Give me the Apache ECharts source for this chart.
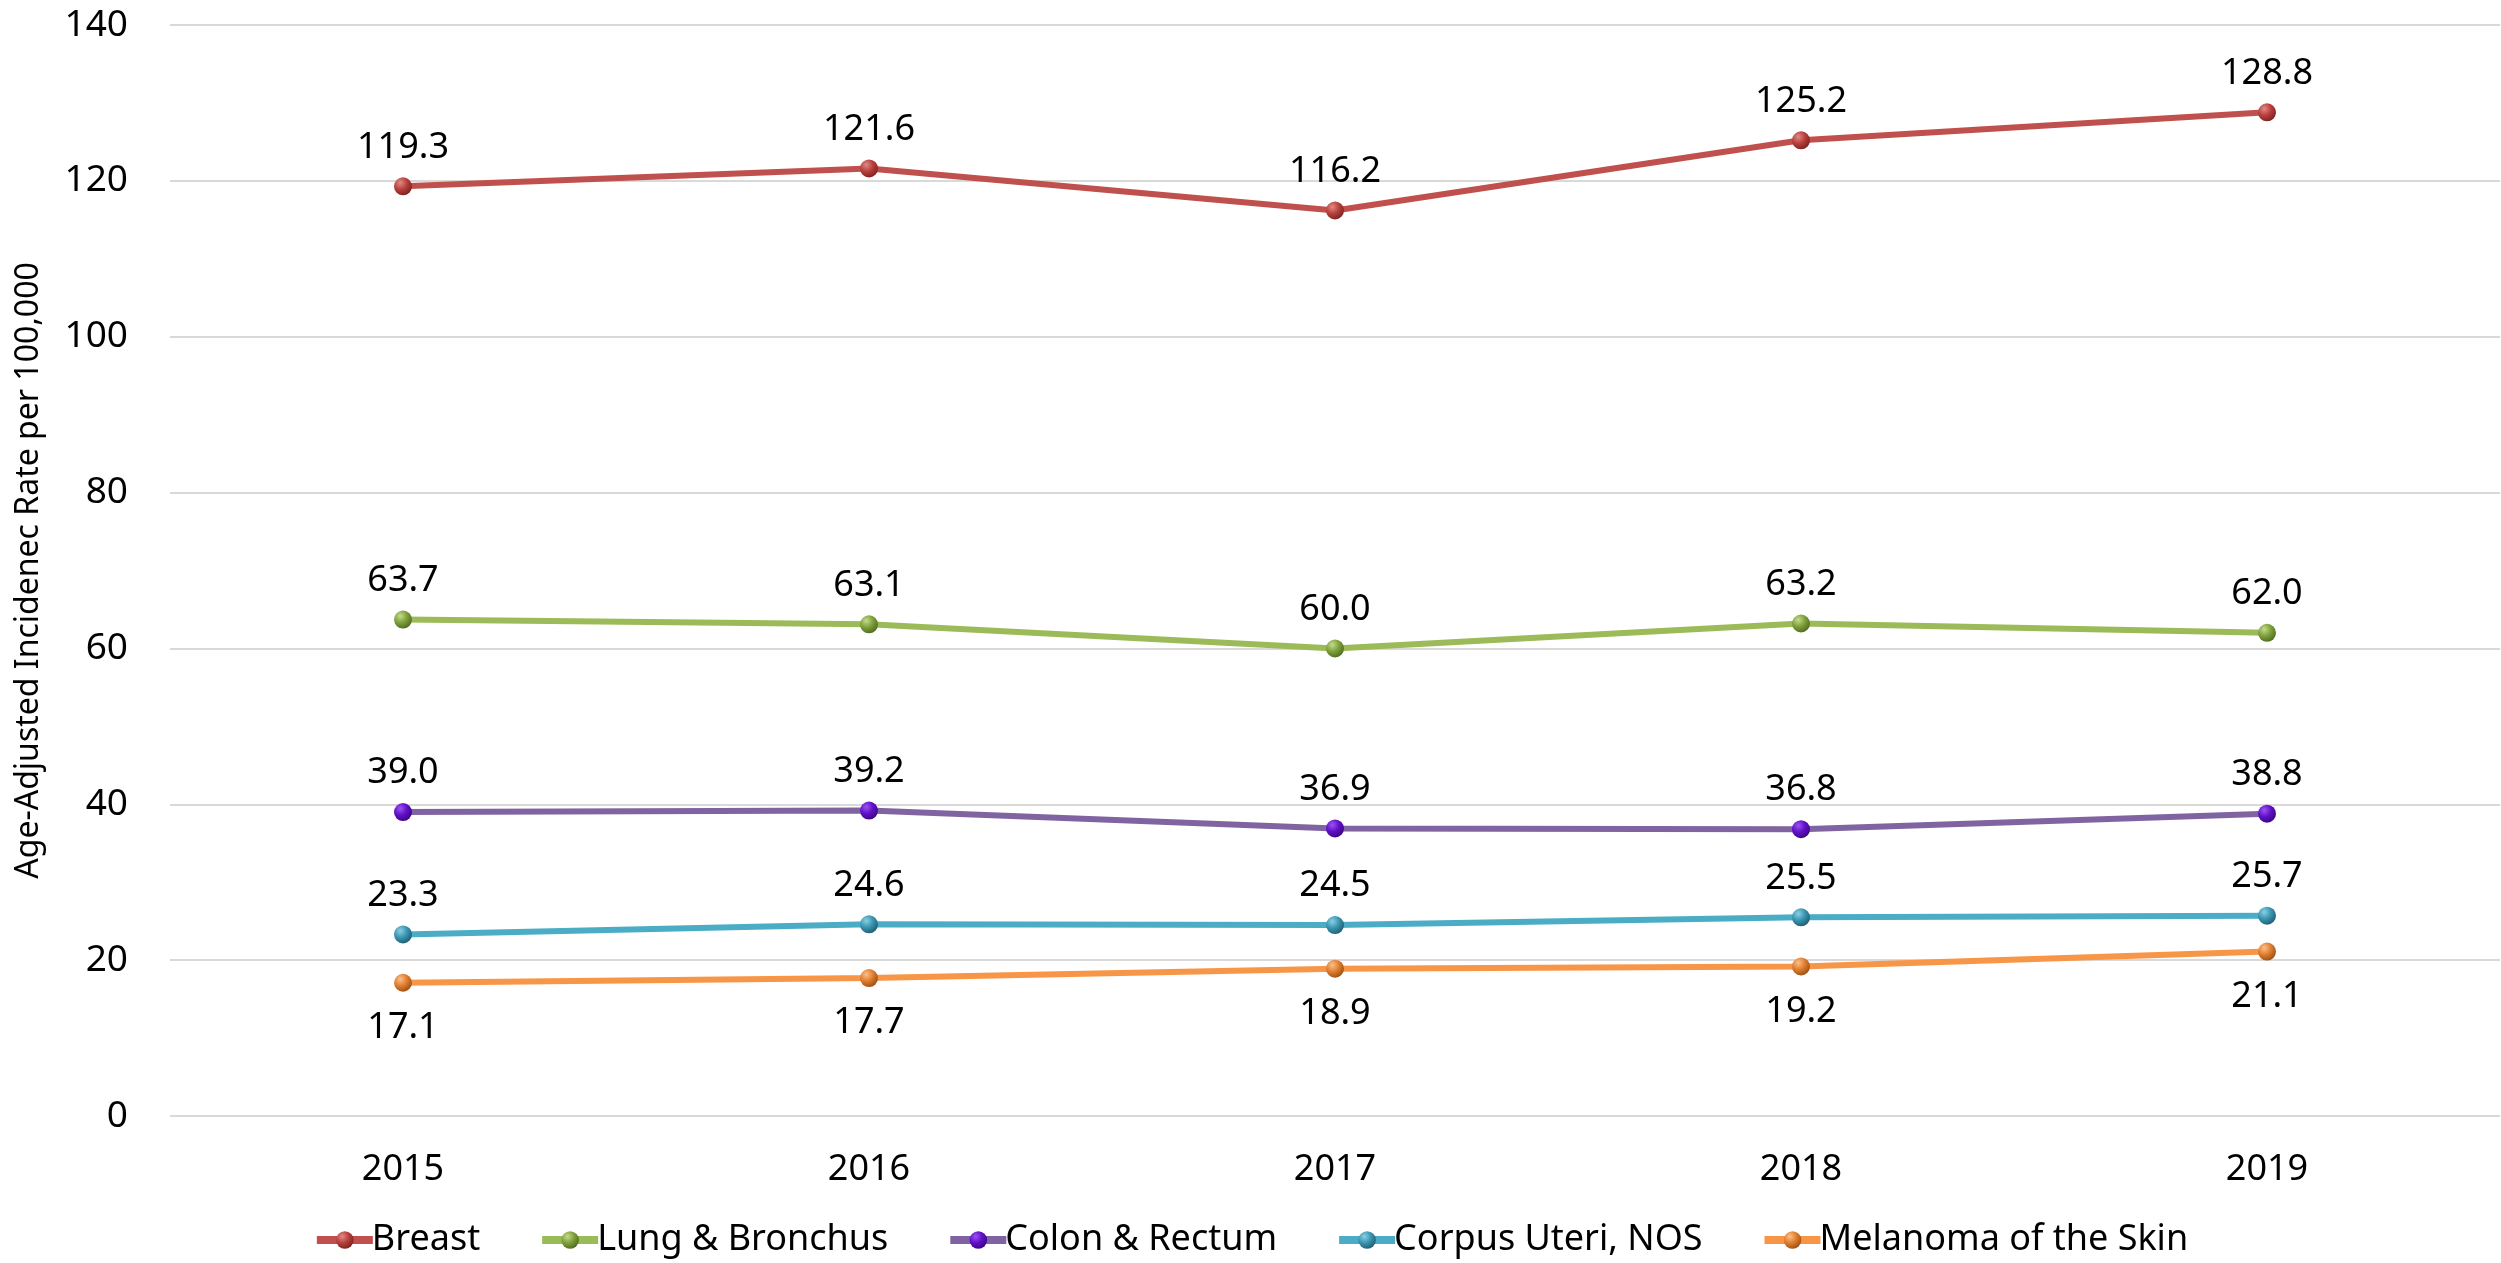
<!DOCTYPE html>
<html>
<head>
<meta charset="utf-8">
<script src="https://cdn.jsdelivr.net/npm/echarts@6/dist/echarts.min.js"></script>
<style>
  html, body { margin: 0; padding: 0; background: #fff; }
  #chart { width: 2501px; height: 1263px; }
</style>
</head>
<body>
<div id="chart"></div>
<script>
// years on the x axis
const years = ["2015", "2016", "2017", "2018", "2019"];
// age-adjusted incidence per 100,000
const breast = [119.3, 121.6, 116.2, 125.2, 128.8];
const lungBronchus = [63.7, 63.1, 60.0, 63.2, 62.0];
const colonRectum = [39.0, 39.2, 36.9, 36.8, 38.8];
const corpusUteri = [23.3, 24.6, 24.5, 25.5, 25.7];
const melanoma = [17.1, 17.7, 18.9, 19.2, 21.1];

const FONT = "Noto Sans";

// shiny ball marker like the office chart
function ball(light, mid, dark) {
  return {
    type: "radial", x: 0.35, y: 0.3, r: 0.75,
    colorStops: [
      { offset: 0, color: light },
      { offset: 0.5, color: mid },
      { offset: 1, color: dark }
    ]
  };
}

function makeSeries(name, data, lineColor, marker, labelPos, labelDist) {
  return {
    name: name,
    type: "line",
    data: data,
    symbol: "circle",
    symbolSize: 18,
    lineStyle: { color: lineColor, width: 6 },
    itemStyle: { color: marker, borderWidth: 0 },
    label: {
      show: true,
      position: labelPos,
      distance: labelDist,
      fontFamily: FONT,
      fontSize: 36,
      color: "#000",
      formatter: p => p.value.toFixed(1)
    },
    emphasis: { disabled: true },
    animation: false
  };
}

let myChart = echarts.init(document.getElementById("chart"));
myChart.setOption({
  color: ["#C0504D", "#9BBB59", "#8064A2", "#4BACC6", "#F79646"],
  grid: { left: 170, right: 1, top: 25, bottom: 147 },
  legend: {
    bottom: 0,
    left: "center",
    itemWidth: 56,
    itemHeight: 22,
    itemGap: 58,
    lineStyle: { width: 8 },
    textStyle: { fontFamily: FONT, fontSize: 36, color: "#000", padding: [0, 0, 0, -6] }
  },
  xAxis: {
    type: "category",
    data: years,
    boundaryGap: true,
    axisLine: { show: false },
    axisTick: { show: false },
    axisLabel: { fontFamily: FONT, fontSize: 36, color: "#000", margin: 36 }
  },
  yAxis: {
    type: "value",
    min: 0,
    max: 140,
    interval: 20,
    name: "Age-Adjusted Incidenec Rate per 100,000",
    nameLocation: "middle",
    nameGap: 125,
    nameTextStyle: { fontFamily: FONT, fontSize: 32, color: "#000" },
    axisLine: { show: false },
    axisTick: { show: false },
    axisLabel: { fontFamily: FONT, fontSize: 37, color: "#000", margin: 42 },
    splitLine: { lineStyle: { color: "#D9D9D9", width: 2 } }
  },
  series: [
    makeSeries("Breast", breast, "#C0504D", ball("#E08A86", "#B8403C", "#7A2220"), "top", 12),
    makeSeries("Lung & Bronchus", lungBronchus, "#9BBB59", ball("#C4DC8C", "#7FA03C", "#4F6A1E"), "top", 12),
    makeSeries("Colon & Rectum", colonRectum, "#8064A2", ball("#9A55F0", "#6010C8", "#3A0680"), "top", 12),
    makeSeries("Corpus Uteri, NOS", corpusUteri, "#4BACC6", ball("#8AD0E4", "#3A95B0", "#1F5C70"), "top", 12),
    makeSeries("Melanoma of the Skin", melanoma, "#F79646", ball("#FBC08A", "#E07E30", "#9A4E14"), "bottom", 18)
  ]
});
</script>
</body>
</html>
